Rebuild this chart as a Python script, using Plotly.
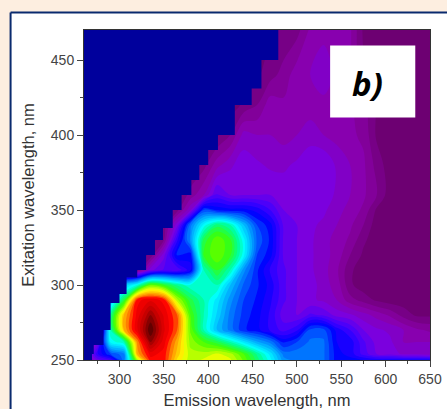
import plotly.graph_objects as go

emission = [260,275,290,305,320,335,350,365,380,395,410,425,440,455,470,485,500,515,530,545,560,575,590,605,620,635,650]
excitation = [250,254,262,270,280,290,300,310,320,330,340,350,360,380,400,420,440,470]

z_250 = [4,16,20,34,66,84,84,72,66,68,70,68,62,54,46,36,34,34,33,26,26,25,24,24,24,24,24]
z_254 = [4,22,30,34,76,86,84,74,66,66,68,66,60,52,44,34,34,34,33,26,24,19,15,14,12,12,11]
z_262 = [5,14,46,50,78,95,86,76,64,60,56,50,44,38,34,27,30,33,33,25,24,18,14,13,10,10,10]
z_270 = [5,5,50,75,87,100,88,80,62,50,40,34,28,26,22,19,22,31,31,24,20,15,13,12,10,8,7]
z_280 = [5,5,52,75,86,95,87,80,60,50,42,34,29,26,22,16,15,18,17,14,13,11,9,7,4,2,2]
z_290 = [5,5,40,56,84,87,84,66,56,50,44,36,30,27,23,18,15,13,12,10,6,4,2,1,1,1,1]
z_300 = [2,2,2,40,48,62,58,52,48,50,50,40,32,28,24,18,15,14,11,9,3,1,1,1,1,1,1]
z_310 = [1,1,1,2,4,14,18,18,24,50,58,50,36,28,22,18,15,13,11,8,3,1,1,1,1,1,1]
z_320 = [1,1,1,1,1,3,14,28,26,58,62,58,46,30,26,17,15,13,11,9,5,2,1,1,1,1,1]
z_330 = [1,1,1,1,1,1,5,22,36,56,62,58,46,32,27,17,15,13,11,9,7,3,1,1,1,1,1]
z_340 = [1,1,1,1,1,1,3,14,34,46,54,50,40,30,26,17,15,13,12,10,8,5,1,1,1,1,1]
z_350 = [1,1,1,1,1,1,2,4,12,30,27,26,26,24,20,15,15,14,13,11,9,7,2,1,1,1,1]
z_360 = [1,1,1,1,1,1,1,2,6,10,18,15,15,15,15,14,14,14,14,12,10,8,5,1,1,1,1]
z_380 = [1,1,1,1,1,1,1,1,2,4,9,12,14,13,12,12,13,15,15,12,10,8,4,1,1,1,1]
z_400 = [1,1,1,1,1,1,1,1,1,1,2,5,11,10,10,9,10,11,10,9,8,7,2,1,1,1,1]
z_420 = [1,1,1,1,1,1,1,1,1,1,1,1,3,5,9,8,9,9,9,9,8,6,2,1,1,1,1]
z_440 = [1,1,1,1,1,1,1,1,1,1,1,1,1,2,4,6,9,10,12,9,8,3,1,1,1,1,1]
z_470 = [1,1,1,1,1,1,1,1,1,1,1,1,1,1,2,3,4,8,9,9,8,2,1,1,1,1,1]
z_rows = [z_250,z_254,z_262,z_270,z_280,z_290,z_300,z_310,z_320,z_330,z_340,z_350,z_360,z_380,z_400,z_420,z_440,z_470]

# edge of the unmeasured (navy) region: emission limit per excitation band
mask_y = [250,254,260,270,288,294,305,310,320,330,338,350,360,370,380,390,400,420,431,450,470]
mask_x = [269,271,282,290,300,308,320,330,340,349,360,370,381,390,400,411,430,449,460,479,479]

x_major = [300,350,400,450,500,550,600,650]
y_major = [250,300,350,400,450]

scale = [[0,"#680068"],[0.05,"#7c0090"],[0.08,"#8a00a8"],[0.14,"#7a00e0"],[0.20,"#4000ff"],[0.26,"#0000ff"],
         [0.32,"#0060ff"],[0.40,"#00c0ff"],[0.46,"#00ffff"],[0.52,"#00ff90"],[0.60,"#40ff00"],[0.70,"#ffff00"],
         [0.78,"#ff9000"],[0.84,"#ff0000"],[0.92,"#c00000"],[1,"#500000"]]

L,R,T,B = 84.3,429.7,29.5,359.7
def px(v): return (v-L)/(R-L)
def py(v): return (B-v)/(B-T)

fig = go.Figure()
fig.add_trace(go.Contour(x=emission,y=excitation,z=z_rows,colorscale=scale,zmin=0,zmax=100,showscale=False,
    contours=dict(coloring="fill",start=0,end=100,size=2.5,showlines=False),line=dict(width=0),hoverinfo="skip"))
fig.add_trace(go.Scatter(x=[260]+mask_x+[260],y=[250]+mask_y+[470],mode="lines",line=dict(shape="vh",width=0),
    fill="toself",fillcolor="#00009c",hoverinfo="skip",showlegend=False))

axis = dict(showgrid=False,zeroline=False,showline=True,linecolor="#333333",linewidth=1,ticks="outside",ticklen=6,
            tickcolor="#444444",tickfont=dict(family="Liberation Sans",size=14,color="#444444"),mirror=True,automargin=False,
            minor=dict(ticks="outside",ticklen=3,tickcolor="#444444",dtick=25))
title_font = dict(family="Liberation Sans",size=16.5,color="#333333")
fig.update_layout(width=447,height=409,autosize=False,margin=dict(l=L,r=447-R,t=T,b=409-B),
    paper_bgcolor="#fdeee0",plot_bgcolor="#00009c",showlegend=False,
    xaxis=dict(axis,range=[260,650],tickvals=x_major,title=dict(text="Emission wavelength, nm",font=title_font,standoff=8)),
    yaxis=dict(axis,range=[250,470],tickvals=y_major,title=dict(text="Exitation wavelength, nm",font=title_font,standoff=12)),
    shapes=[dict(type="rect",xref="paper",yref="paper",x0=px(11),x1=px(447),y0=py(12),y1=py(409),fillcolor="white",
                 line=dict(width=0),layer="below"),
            dict(type="line",xref="paper",yref="paper",x0=px(11),x1=px(447),y0=py(12),y1=py(12),
                 line=dict(color="#0a2a6e",width=2),layer="below"),
            dict(type="line",xref="paper",yref="paper",x0=px(11),x1=px(11),y0=py(12),y1=py(409),
                 line=dict(color="#0a2a6e",width=2),layer="below"),
            dict(type="rect",xref="paper",yref="paper",x0=px(330),x1=px(415),y0=py(45),y1=py(117),fillcolor="white",
                 line=dict(width=0),layer="above")],
    annotations=[dict(text="<b><i>b)</i></b>",xref="paper",yref="paper",x=px(367),y=py(83),xanchor="center",yanchor="middle",showarrow=False,
                      font=dict(family="Open Sans",size=33,color="black"))])
fig.write_html("out.html",config=dict(displayModeBar=False),post_script="document.body.style.margin='0';document.documentElement.style.overflow='hidden';document.body.style.background='#fdeee0';")
